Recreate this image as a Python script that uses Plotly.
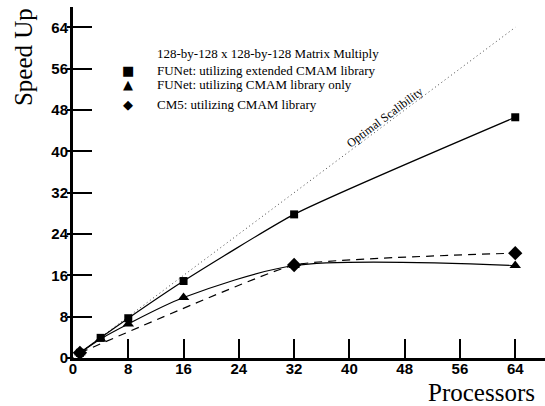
import plotly.graph_objects as go

# ---- data ----
procs_ext = [1, 4, 8, 16, 32, 64]
speed_ext = [1.0, 3.9, 7.7, 14.9, 27.8, 46.6]
procs_only = [1, 4, 8, 16, 32, 64]
speed_only = [1.0, 3.7, 6.6, 11.7, 17.9, 17.9]
procs_cm5 = [1, 32, 64]
speed_cm5 = [1.0, 18.0, 20.3]
optimal_x = [0, 64]
optimal_y = [0, 64]
x_ticks = [0, 8, 16, 24, 32, 40, 48, 56, 64]
y_ticks = [0, 8, 16, 24, 32, 40, 48, 56, 64]
legend_title = "128-by-128 x 128-by-128 Matrix Multiply"
legend_labels = ["FUNet: utilizing extended CMAM library",
                 "FUNet: utilizing CMAM library only",
                 "CM5: utilizing CMAM library"]

W, H = 545, 406
L, R, T, B = 73, 0, 7, 48.4
pw, ph = W - L - R, H - T - B


def px(x):
    return (x - L) / pw


def py(y):
    return (H - B - y) / ph


serif = "Liberation Serif"
sans = "Liberation Sans"

fig = go.Figure()
fig.add_trace(go.Scatter(x=optimal_x, y=optimal_y, mode="lines",
                         line=dict(color="#444444", width=1, dash="1px,3px"),
                         showlegend=False, hoverinfo="skip"))
fig.add_trace(go.Scatter(x=procs_cm5, y=speed_cm5, mode="lines+markers",
                         line=dict(color="black", width=1.2, dash="8px,6px",
                                   shape="spline", smoothing=0.35),
                         marker=dict(symbol="diamond", size=11, color="black"),
                         showlegend=False, cliponaxis=False))
fig.add_trace(go.Scatter(x=procs_only, y=speed_only, mode="lines+markers",
                         line=dict(color="black", width=1.2, shape="spline", smoothing=0.8),
                         marker=dict(symbol="triangle-up", size=10, color="black"),
                         showlegend=False, cliponaxis=False))
fig.add_trace(go.Scatter(x=procs_ext, y=speed_ext, mode="lines+markers",
                         line=dict(color="black", width=1.2, shape="spline", smoothing=0.5),
                         marker=dict(symbol="square", size=8, color="black"),
                         showlegend=False, cliponaxis=False))

xr = [0, (W - L) / 6.91]
yr = [0, (H - B - T) / 5.16]

fig.update_layout(
    width=W, height=H,
    margin=dict(l=L, r=R, t=T, b=B, pad=0),
    paper_bgcolor="white", plot_bgcolor="white",
    xaxis=dict(range=xr, tickvals=x_ticks, ticks="inside", ticklen=19, tickwidth=2,
               tickcolor="black", showline=True, linewidth=3, linecolor="black",
               showgrid=False, zeroline=False, ticklabelstandoff=-5,
               tickfont=dict(family=sans, size=15, color="black", weight="bold")),
    yaxis=dict(range=yr, tickvals=y_ticks, ticks="inside", ticklen=19, tickwidth=2,
               tickcolor="black", showline=True, linewidth=3, linecolor="black",
               showgrid=False, zeroline=False, ticklabelstandoff=-1,
               tickfont=dict(family=sans, size=15, color="black", weight="bold")),
    yaxis2=dict(range=yr, tickvals=y_ticks, ticks="outside", ticklen=5, tickwidth=2,
                tickcolor="black", overlaying="y", side="left", showticklabels=False,
                showgrid=False, zeroline=False, showline=False),
)
fig.add_trace(go.Scatter(x=[None], y=[None], yaxis="y2", showlegend=False, hoverinfo="skip"))

ann = []
ann.append(dict(text="Speed Up", x=px(23), y=py(57), xref="paper", yref="paper",
                textangle=-90, showarrow=False, xanchor="center", yanchor="middle",
                font=dict(family=serif, size=25, color="black")))
ann.append(dict(text="Processors", x=px(481), y=py(392), xref="paper", yref="paper",
                showarrow=False, xanchor="center", yanchor="middle",
                font=dict(family=serif, size=25, color="black")))
ann.append(dict(text="Optimal Scalibility", x=45.2, y=46.6, xref="x", yref="y",
                textangle=-36.7, showarrow=False, xanchor="center", yanchor="middle",
                font=dict(family=serif, size=12, color="black")))
# legend
ann.append(dict(text=legend_title, x=px(155), y=py(53), xref="paper", yref="paper",
                showarrow=False, xanchor="left", yanchor="middle",
                font=dict(family=serif, size=13, color="black")))
leg_y = [70, 84, 104]
leg_sym = ["■", "▲", "◆"]
for lab, yy, sym in zip(legend_labels, leg_y, leg_sym):
    ann.append(dict(text=lab, x=px(155), y=py(yy), xref="paper", yref="paper",
                    showarrow=False, xanchor="left", yanchor="middle",
                    font=dict(family=serif, size=13, color="black")))
    ann.append(dict(text=sym, x=px(128), y=py(yy), xref="paper", yref="paper",
                    showarrow=False, xanchor="center", yanchor="middle",
                    font=dict(family="DejaVu Sans", size=13, color="black")))
fig.update_layout(annotations=ann)

fig.write_html("out.html", config={"displayModeBar": False},
               post_script="document.body.style.margin='0';")
